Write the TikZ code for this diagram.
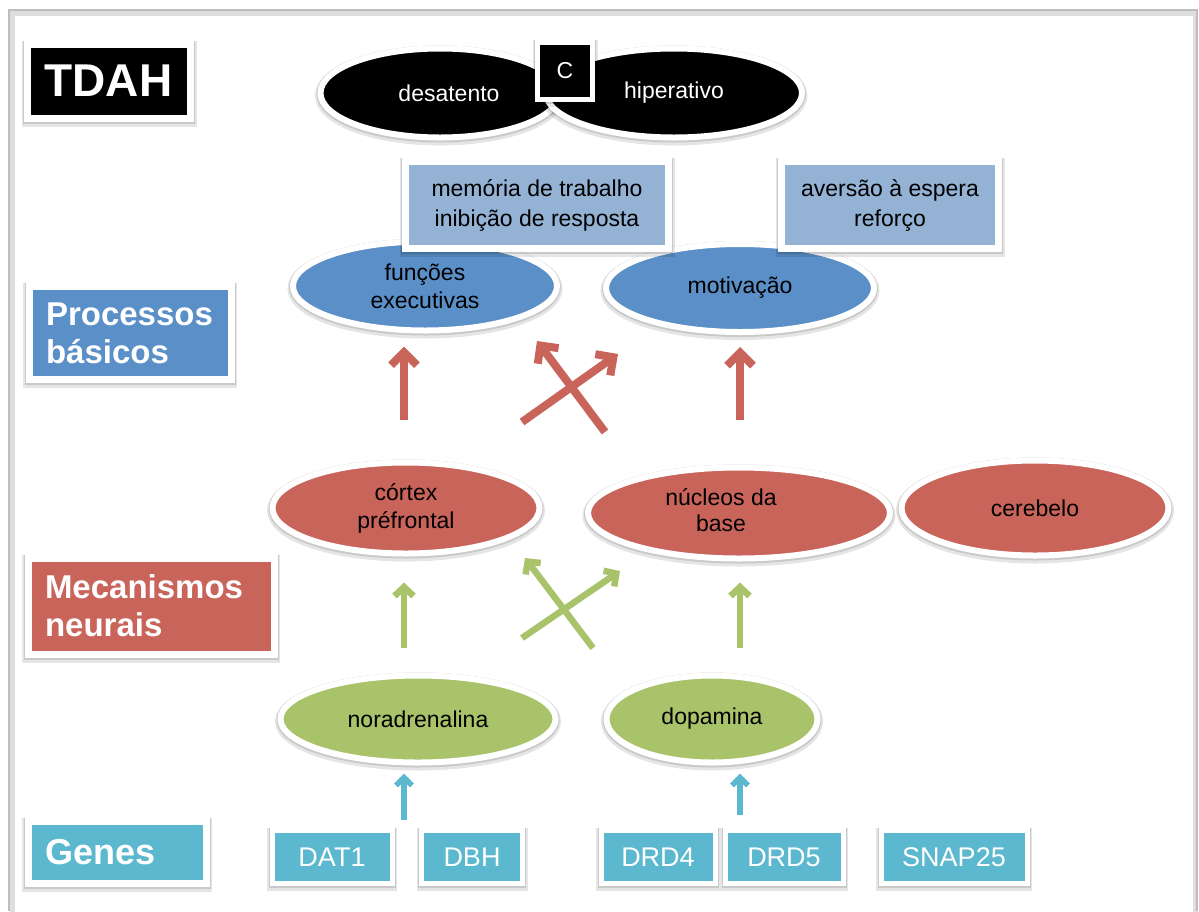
\documentclass[tikz,border=0pt]{standalone}
\usepackage{fontspec}
\setmainfont{Liberation Sans}
\usetikzlibrary{shapes.geometric,arrows.meta}

\definecolor{procblue}{HTML}{5A8FC7}
\definecolor{boxblue}{HTML}{93B2D4}
\definecolor{neured}{HTML}{C9645B}
\definecolor{transgreen}{HTML}{A8C36A}
\definecolor{genecyan}{HTML}{5BB8CE}
\definecolor{framegray}{HTML}{BDBDBD}

\tikzset{
  softshadow/.style={preaction={draw=black,opacity=0.10,line width=#1+5pt,
      transform canvas={yshift=-2.5pt}},
    preaction={draw=black,opacity=0.12,line width=#1+2pt,
      transform canvas={yshift=-1pt}}},
  oval/.style={ellipse,draw=white,line width=6pt,softshadow=6pt,inner sep=0pt,
    align=center,font=\fontsize{23}{28}\selectfont},
  tag/.style={rectangle,draw=white,line width=7pt,softshadow=7pt,inner xsep=17pt,
    inner ysep=0pt,align=left,text=white,font=\fontsize{33}{38}\bfseries\selectfont},
  infobox/.style={rectangle,draw=white,line width=7pt,softshadow=7pt,fill=boxblue,
    inner sep=0pt,minimum height=87pt,align=center,font=\fontsize{23}{30}\selectfont},
  genebox/.style={rectangle,draw=white,line width=5pt,softshadow=5pt,fill=genecyan,
    text=white,inner sep=0pt,minimum height=53pt,font=\fontsize{27}{30}\selectfont},
  redarrow/.style={neured,line width=8pt,-{Straight Barb[length=13pt,width=26pt]}},
  greenarrow/.style={transgreen,line width=6.5pt,-{Straight Barb[length=9pt,width=19pt]}},
  cyanarrow/.style={genecyan,line width=5.5pt,-{Straight Barb[length=8pt,width=16pt]}}
}

\begin{document}
\begin{tikzpicture}[x=1pt,y=-1pt]
  \useasboundingbox (0,0) rectangle (1199,911);
  \fill[white] (0,0) rectangle (1199,911);
  \draw[framegray!50,line width=5pt] (12,913) -- (12,13) -- (1195,13) -- (1195,913);
  \draw[framegray,line width=2pt] (9,911) -- (9,10) -- (1197,10) -- (1197,911);

  % level tags
  \node[tag,fill=black,text width=129pt,minimum height=74pt,
    font=\fontsize{46}{50}\bfseries\selectfont] (tdah) at (109,81) {TDAH};
  \node[tag,fill=procblue,text width=168pt,minimum height=93pt] (proc) at (130,333) {Processos\\básicos};
  \node[tag,fill=neured,text width=212pt,minimum height=96pt] (mec) at (151,606) {Mecanismos\\neurais};
  \node[tag,fill=genecyan,text width=144pt,minimum height=62pt,
    font=\fontsize{36}{40}\bfseries\selectfont] (gen) at (117,852) {Genes};

  % subtypes
  \node[oval,fill=black,text=white,minimum width=239pt,minimum height=89pt] (des) at (440,93) {\hspace*{18pt}desatento};
  \node[oval,fill=black,text=white,minimum width=256pt,minimum height=89pt] (hip) at (674,93) {hiperativo};
  \node[rectangle,draw=white,line width=5pt,softshadow=5pt,fill=black,text=white,minimum width=55pt,
    minimum height=57pt,inner sep=0pt,font=\fontsize{23}{26}\selectfont] (comb) at (565,71) {C};

  % basic processes
  \node[oval,fill=procblue,minimum width=264pt,minimum height=89pt] (fe) at (425,286) {funções\\executivas};
  \node[oval,fill=procblue,minimum width=268pt,minimum height=88pt] (mot) at (740,288) {motivação};
  \node[infobox,minimum width=263pt] (mem) at (537,205) {memória de trabalho\\inibição de resposta};
  \node[infobox,minimum width=217pt] (avs) at (890,205) {aversão à espera\\reforço};

  % neural mechanisms
  \node[oval,fill=neured,minimum width=267pt,minimum height=91pt] (ctx) at (406,508) {córtex\\préfrontal};
  \node[oval,fill=neured,minimum width=302pt,minimum height=91pt] (nuc) at (739,513) {\hspace*{-36pt}\begin{tabular}{@{}c@{}}núcleos da\\[-2pt]base\end{tabular}};
  \node[oval,fill=neured,minimum width=267pt,minimum height=95pt] (cer) at (1035,508) {cerebelo};

  % transmitters
  \node[oval,fill=transgreen,minimum width=275pt,minimum height=87pt] (nor) at (418,719) {noradrenalina};
  \node[oval,fill=transgreen,minimum width=211pt,minimum height=87pt] (dop) at (712,719) {dopamina};

  % genes
  \foreach \nm/\gx/\gw in {DAT1/332/120,DBH/472/101,DRD4/658/114,DRD5/784/118,SNAP25/954/146}{
    \node[genebox,minimum width=\gw pt] (\nm) at (\gx,857) {\nm};
  }

  % arrows
  \coordinate (rxa) at (605,432);
  \coordinate (rxat) at (537,341);
  \coordinate (rxb) at (522,422);
  \coordinate (rxbt) at (618,354);
  \coordinate (gxa) at (593,648);
  \coordinate (gxat) at (525,558);
  \coordinate (gxb) at (522,638);
  \coordinate (gxbt) at (620,571);
  \coordinate (gl) at (404,820);
  \coordinate (gr) at (740,815);

  \draw[redarrow,shorten <=40pt,shorten >=13pt] (ctx.north -| gl) -- (fe.south -| gl);
  \draw[redarrow,shorten <=45pt,shorten >=12pt] (nuc.north -| gr) -- (mot.south -| gr);
  \draw[redarrow] (rxa) -- (rxat);
  \draw[redarrow] (rxb) -- (rxbt);

  \draw[greenarrow,shorten <=25pt,shorten >=26pt] (nor.north -| gl) -- (ctx.south -| gl);
  \draw[greenarrow,shorten <=25pt,shorten >=21pt] (dop.north -| gr) -- (nuc.south -| gr);
  \draw[greenarrow] (gxa) -- (gxat);
  \draw[greenarrow] (gxb) -- (gxbt);

  \draw[cyanarrow,shorten >=8pt] (gl) -- (gl |- nor.south);
  \draw[cyanarrow,shorten >=8pt] (gr) -- (gr |- dop.south);
\end{tikzpicture}
\end{document}
